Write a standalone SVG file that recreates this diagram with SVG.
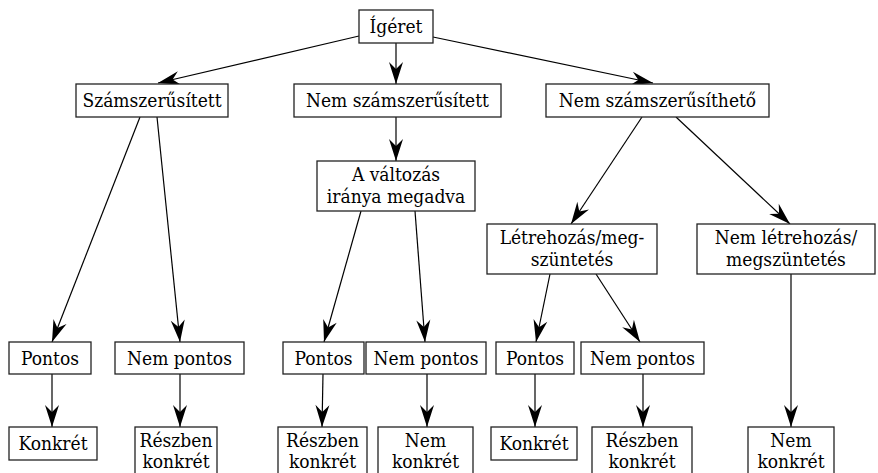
<svg xmlns="http://www.w3.org/2000/svg" width="878" height="473" viewBox="0 0 878 473">
  <defs>
    <marker id="arrow" markerUnits="userSpaceOnUse" markerWidth="30" markerHeight="20" refX="0" refY="0" viewBox="-24 -10 26 20" orient="auto" overflow="visible">
      <path d="M0,0 L-22,-7 L-15,0 L-22,7 Z" fill="#000"/>
    </marker>
    <style>
      .box { fill: #fff; stroke: #222; stroke-width: 1.3; }
      .lbl { font-size: 19px; fill: #000; text-anchor: middle; font-stretch: condensed; }
      .edge { stroke: #000; stroke-width: 1.2; fill: none; marker-end: url(#arrow); }
    </style>
  </defs>
  <rect width="878" height="473" fill="#fff"/>

  <g id="connectors">
    <line class="edge" x1="359" y1="36" x2="158" y2="83"/>
    <line class="edge" x1="396" y1="43" x2="396" y2="84"/>
    <line class="edge" x1="433" y1="37" x2="653" y2="83"/>
    <line class="edge" x1="140" y1="117" x2="52" y2="342"/>
    <line class="edge" x1="157" y1="117" x2="180" y2="342"/>
    <line class="edge" x1="396" y1="117" x2="396" y2="161"/>
    <line class="edge" x1="361" y1="211" x2="324" y2="342"/>
    <line class="edge" x1="415" y1="211" x2="425" y2="342"/>
    <line class="edge" x1="642" y1="117" x2="571" y2="224"/>
    <line class="edge" x1="676" y1="117" x2="790" y2="224"/>
    <line class="edge" x1="550" y1="274" x2="536" y2="342"/>
    <line class="edge" x1="596" y1="274" x2="640" y2="342"/>
    <line class="edge" x1="791" y1="274" x2="791" y2="427"/>
    <line class="edge" x1="52" y1="374" x2="52" y2="427"/>
    <line class="edge" x1="180" y1="374" x2="180" y2="427"/>
    <line class="edge" x1="323" y1="374" x2="322" y2="427"/>
    <line class="edge" x1="427" y1="374" x2="427" y2="427"/>
    <line class="edge" x1="535" y1="374" x2="535" y2="427"/>
    <line class="edge" x1="643" y1="374" x2="643" y2="427"/>
  </g>

  <g id="nodes" font-family="DejaVu Serif Condensed, DejaVu Serif, serif">
  <g id="igeret">
    <rect class="box" x="359" y="10" width="74" height="33"/>
    <text class="lbl" x="396" y="33">Ígéret</text>
  </g>

  <g id="szamszerusitett">
    <rect class="box" x="76" y="84" width="152" height="33"/>
    <text class="lbl" x="152" y="107">Számszerűsített</text>
  </g>
  <g id="nem-szamszerusitett">
    <rect class="box" x="294" y="84" width="207" height="33"/>
    <text class="lbl" x="397.5" y="107">Nem számszerűsített</text>
  </g>
  <g id="nem-szamszerusitheto">
    <rect class="box" x="546" y="84" width="223" height="33"/>
    <text class="lbl" x="657.5" y="107">Nem számszerűsíthető</text>
  </g>

  <g id="valtozas-iranya">
    <rect class="box" x="317" y="161" width="158" height="50"/>
    <text class="lbl" x="396" y="181">A változás</text>
    <text class="lbl" x="396" y="203">iránya megadva</text>
  </g>
  <g id="letrehozas">
    <rect class="box" x="487" y="224" width="170" height="50"/>
    <text class="lbl" x="572" y="244">Létrehozás/meg-</text>
    <text class="lbl" x="572" y="266">szüntetés</text>
  </g>
  <g id="nem-letrehozas">
    <rect class="box" x="697" y="224" width="178" height="50"/>
    <text class="lbl" x="786" y="244">Nem létrehozás/</text>
    <text class="lbl" x="786" y="266">megszüntetés</text>
  </g>

  <g id="pontos-1">
    <rect class="box" x="9" y="342" width="82" height="32"/>
    <text class="lbl" x="50" y="365">Pontos</text>
  </g>
  <g id="nem-pontos-1">
    <rect class="box" x="115" y="342" width="129" height="32"/>
    <text class="lbl" x="179.5" y="365">Nem pontos</text>
  </g>
  <g id="pontos-2">
    <rect class="box" x="283" y="342" width="81" height="32"/>
    <text class="lbl" x="323.5" y="365">Pontos</text>
  </g>
  <g id="nem-pontos-2">
    <rect class="box" x="366" y="342" width="120" height="32"/>
    <text class="lbl" x="426" y="365">Nem pontos</text>
  </g>
  <g id="pontos-3">
    <rect class="box" x="496" y="342" width="78" height="32"/>
    <text class="lbl" x="535" y="365">Pontos</text>
  </g>
  <g id="nem-pontos-3">
    <rect class="box" x="581" y="342" width="123" height="32"/>
    <text class="lbl" x="642.5" y="365">Nem pontos</text>
  </g>

  <g id="konkret-1">
    <rect class="box" x="9" y="427" width="88" height="33"/>
    <text class="lbl" x="53" y="450">Konkrét</text>
  </g>
  <g id="reszben-konkret-1">
    <rect class="box" x="135" y="427" width="82" height="52"/>
    <text class="lbl" x="176" y="447">Részben</text>
    <text class="lbl" x="176" y="468">konkrét</text>
  </g>
  <g id="reszben-konkret-2">
    <rect class="box" x="278" y="427" width="89" height="52"/>
    <text class="lbl" x="322.5" y="447">Részben</text>
    <text class="lbl" x="322.5" y="468">konkrét</text>
  </g>
  <g id="nem-konkret-2">
    <rect class="box" x="378" y="427" width="95" height="52"/>
    <text class="lbl" x="425.5" y="447">Nem</text>
    <text class="lbl" x="425.5" y="468">konkrét</text>
  </g>
  <g id="konkret-3">
    <rect class="box" x="491" y="427" width="86" height="33"/>
    <text class="lbl" x="534" y="450">Konkrét</text>
  </g>
  <g id="reszben-konkret-3">
    <rect class="box" x="592" y="427" width="100" height="52"/>
    <text class="lbl" x="642" y="447">Részben</text>
    <text class="lbl" x="642" y="468">konkrét</text>
  </g>
  <g id="nem-konkret-3">
    <rect class="box" x="748" y="427" width="86" height="52"/>
    <text class="lbl" x="791" y="447">Nem</text>
    <text class="lbl" x="791" y="468">konkrét</text>
  </g>
  </g>
</svg>
